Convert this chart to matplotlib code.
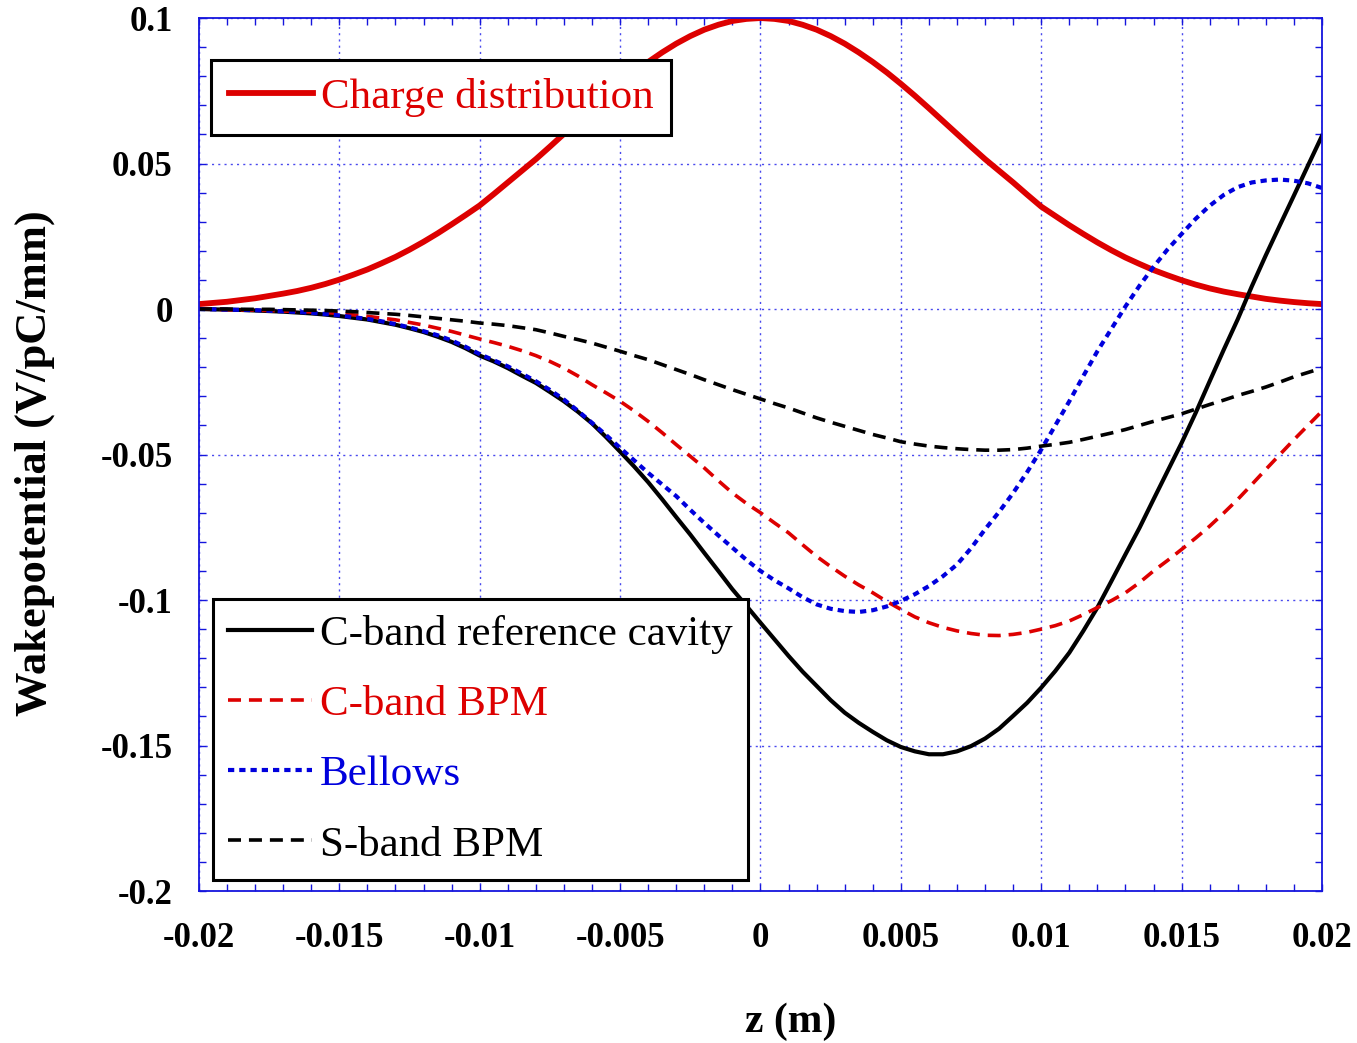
import numpy as np
import matplotlib
matplotlib.use('Agg')
import matplotlib.pyplot as plt
from matplotlib.ticker import MultipleLocator

plt.rcParams['font.family'] = ['Liberation Serif', 'DejaVu Serif']
plt.rcParams['axes.unicode_minus'] = False

# z positions (m), one reading every 0.5 mm
z = np.arange(-40, 41) / 2000.0

charge = [0.0017, 0.0021, 0.0025, 0.0031, 0.0037, 0.0045, 0.0053, 0.0062, 0.0073, 0.0086,
          0.0101, 0.0118, 0.0136, 0.0157, 0.0179, 0.0204, 0.0231, 0.0260, 0.0291, 0.0323,
          0.0356, 0.0395, 0.0435, 0.0475, 0.0515, 0.0558, 0.0602, 0.0646, 0.0690, 0.0733,
          0.0774, 0.0813, 0.0849, 0.0882, 0.0912, 0.0938, 0.0960, 0.0977, 0.0990, 0.0997,
          0.1000,
          0.0997, 0.0990, 0.0977, 0.0960, 0.0938, 0.0912, 0.0882, 0.0849, 0.0813, 0.0774,
          0.0733, 0.0690, 0.0646, 0.0602, 0.0558, 0.0515, 0.0475, 0.0435, 0.0393, 0.0352,
          0.0320, 0.0288, 0.0258, 0.0229, 0.0202, 0.0177, 0.0155, 0.0134, 0.0116, 0.0099,
          0.0084, 0.0071, 0.0060, 0.0051, 0.0043, 0.0035, 0.0029, 0.0024, 0.0020, 0.0017]

cband_cavity = [0.0, -0.0001, -0.0002, -0.0003, -0.0005, -0.0007, -0.0009, -0.0012, -0.0015, -0.0019,
                -0.0024, -0.0030, -0.0036, -0.0045, -0.0054, -0.0066, -0.0079, -0.0095, -0.0113, -0.0135,
                -0.0160, -0.0180, -0.0203, -0.0229, -0.0254, -0.0285, -0.0317, -0.0353, -0.0393, -0.0440,
                -0.0490, -0.0541, -0.0595, -0.0654, -0.0715, -0.0775, -0.0838, -0.0900, -0.0963, -0.1020,
                -0.1078,
                -0.1135, -0.1192, -0.1246, -0.1295, -0.1344, -0.1387, -0.1422, -0.1453, -0.1482, -0.1505,
                -0.1520, -0.1530, -0.1530, -0.1520, -0.1502, -0.1476, -0.1442, -0.1398, -0.1353, -0.1301,
                -0.1244, -0.1181, -0.1106, -0.1026, -0.0935, -0.0843, -0.0752, -0.0654, -0.0557, -0.0460,
                -0.0357, -0.0248, -0.0140, -0.0035, 0.0078, 0.0185, 0.0288, 0.0390, 0.0493, 0.0595]

cband_bpm = [0.0, -0.0001, -0.0002, -0.0003, -0.0004, -0.0005, -0.0007, -0.0008, -0.0010, -0.0012,
             -0.0015, -0.0020, -0.0025, -0.0031, -0.0037, -0.0046, -0.0055, -0.0066, -0.0077, -0.0090,
             -0.0103, -0.0115, -0.0128, -0.0143, -0.0160, -0.0180, -0.0203, -0.0230, -0.0260, -0.0288,
             -0.0317, -0.0350, -0.0386, -0.0425, -0.0466, -0.0506, -0.0546, -0.0590, -0.0632, -0.0668,
             -0.0700,
             -0.0735, -0.0769, -0.0810, -0.0850, -0.0885, -0.0918, -0.0948, -0.0975, -0.1005, -0.1032,
             -0.1058, -0.1078, -0.1094, -0.1106, -0.1115, -0.1121, -0.1122, -0.1118, -0.1111, -0.1100,
             -0.1088, -0.1072, -0.1050, -0.1026, -0.1002, -0.0975, -0.0940, -0.0900, -0.0864, -0.0826,
             -0.0787, -0.0746, -0.0701, -0.0654, -0.0603, -0.0551, -0.0500, -0.0449, -0.0400, -0.0351]

bellows = [0.0, -0.0001, -0.0002, -0.0003, -0.0004, -0.0006, -0.0008, -0.0010, -0.0013, -0.0017,
           -0.0022, -0.0028, -0.0034, -0.0042, -0.0052, -0.0063, -0.0076, -0.0090, -0.0108, -0.0130,
           -0.0155, -0.0176, -0.0197, -0.0222, -0.0248, -0.0278, -0.0311, -0.0350, -0.0391, -0.0433,
           -0.0477, -0.0520, -0.0563, -0.0603, -0.0643, -0.0690, -0.0735, -0.0778, -0.0820, -0.0862,
           -0.0900,
           -0.0932, -0.0960, -0.0990, -0.1015, -0.1030, -0.1038, -0.1041, -0.1035, -0.1022, -0.1003,
           -0.0980, -0.0952, -0.0918, -0.0878, -0.0822, -0.0757, -0.0697, -0.0632, -0.0560, -0.0483,
           -0.0400, -0.0317, -0.0230, -0.0145, -0.0068, 0.0009, 0.0080, 0.0145, 0.0205, 0.0258,
           0.0310, 0.0355, 0.0392, 0.0419, 0.0435, 0.0442, 0.0445, 0.0441, 0.0432, 0.0416]

sband_bpm = [0.0, 0.0, 0.0, -0.0001, -0.0001, -0.0001, -0.0002, -0.0003, -0.0004, -0.0005,
             -0.0007, -0.0009, -0.0012, -0.0015, -0.0018, -0.0022, -0.0027, -0.0032, -0.0037, -0.0042,
             -0.0048, -0.0052, -0.0057, -0.0064, -0.0071, -0.0082, -0.0094, -0.0105, -0.0117, -0.0131,
             -0.0145, -0.0160, -0.0174, -0.0191, -0.0208, -0.0225, -0.0243, -0.0260, -0.0277, -0.0293,
             -0.0309,
             -0.0325, -0.0340, -0.0357, -0.0374, -0.0389, -0.0403, -0.0417, -0.0431, -0.0443, -0.0456,
             -0.0464, -0.0471, -0.0476, -0.0480, -0.0483, -0.0485, -0.0485, -0.0483, -0.0478, -0.0471,
             -0.0465, -0.0458, -0.0448, -0.0437, -0.0426, -0.0414, -0.0400, -0.0386, -0.0373, -0.0360,
             -0.0344, -0.0328, -0.0313, -0.0297, -0.0283, -0.0268, -0.0251, -0.0233, -0.0218, -0.0203]

xticks = [-0.02, -0.015, -0.01, -0.005, 0, 0.005, 0.01, 0.015, 0.02]
xticklabels = ['-0.02', '-0.015', '-0.01', '-0.005', '0', '0.005', '0.01', '0.015', '0.02']
yticks = [-0.2, -0.15, -0.1, -0.05, 0, 0.05, 0.1]
yticklabels = ['-0.2', '-0.15', '-0.1', '-0.05', '0', '0.05', '0.1']

RED = '#dd0000'
BLUE = '#0000dd'
FRAME = '#1515dd'

fig = plt.figure(figsize=(13.57, 10.43), dpi=100)
ax = fig.add_axes([0.1466, 0.1457, 0.8276, 0.8370])

l_charge, = ax.plot(z, charge, color=RED, lw=4.2)
l_cav, = ax.plot(z, cband_cavity, color='black', lw=3.0)
l_cbpm, = ax.plot(z, cband_bpm, color=RED, lw=2.6, linestyle=(0, (3.6, 2.2)))
l_bel, = ax.plot(z, bellows, color=BLUE, lw=3.0, linestyle=(0, (1.5, 1.2)))
l_sbpm, = ax.plot(z, sband_bpm, color='black', lw=2.6, linestyle=(0, (3.6, 2.2)))

ax.set_xlim(-0.02, 0.02)
ax.set_ylim(-0.2, 0.1)
ax.set_xticks(xticks)
ax.set_xticklabels(xticklabels)
ax.set_yticks(yticks)
ax.set_yticklabels(yticklabels)
ax.xaxis.set_minor_locator(MultipleLocator(0.001))
ax.yaxis.set_minor_locator(MultipleLocator(0.01))

ax.grid(True, which='major', color='#4a4aee', lw=1.0, linestyle=(0, (1.5, 3)))
for s in ax.spines.values():
    s.set_color(FRAME)
    s.set_linewidth(1.3)
ax.tick_params(which='both', direction='in', top=True, right=True, color=FRAME,
               length=5, width=1.0)
ax.tick_params(axis='x', which='major', pad=22, labelsize=25)
ax.tick_params(axis='y', which='major', pad=19, labelsize=25)
for lab in ax.get_xticklabels() + ax.get_yticklabels():
    lab.set_fontweight('bold')

ax.set_xlabel('z (m)', fontsize=30, fontweight='bold')
ax.xaxis.set_label_coords(0.527, -0.128)
ax.set_ylabel('Wakepotential (V/pC/mm)', fontsize=32, fontweight='bold')
ax.yaxis.set_label_coords(-0.128, 0.49)

leg1 = ax.legend([l_charge], ['Charge distribution'], loc='upper left',
                 bbox_to_anchor=(0.0107, 0.952), fontsize=31, frameon=True,
                 fancybox=False, edgecolor='black', handlelength=1.95,
                 handletextpad=0.18, borderpad=0.42, borderaxespad=0,
                 labelcolor='linecolor')
leg1.get_frame().set_linewidth(2.2)
ax.add_artist(leg1)

leg2 = ax.legend([l_cav, l_cbpm, l_bel, l_sbpm],
                 ['C-band reference cavity', 'C-band BPM', 'Bellows', 'S-band BPM'],
                 loc='lower left', bbox_to_anchor=(0.0125, 0.0126), fontsize=31,
                 frameon=True, fancybox=False, edgecolor='black', handlelength=1.95,
                 handletextpad=0.18, borderpad=0.36, borderaxespad=0,
                 labelspacing=0.72, labelcolor='linecolor')
leg2.get_frame().set_linewidth(2.2)
for f in (leg1, leg2):
    f.get_frame().set_alpha(1)

fig.savefig('out.png', dpi=100)
